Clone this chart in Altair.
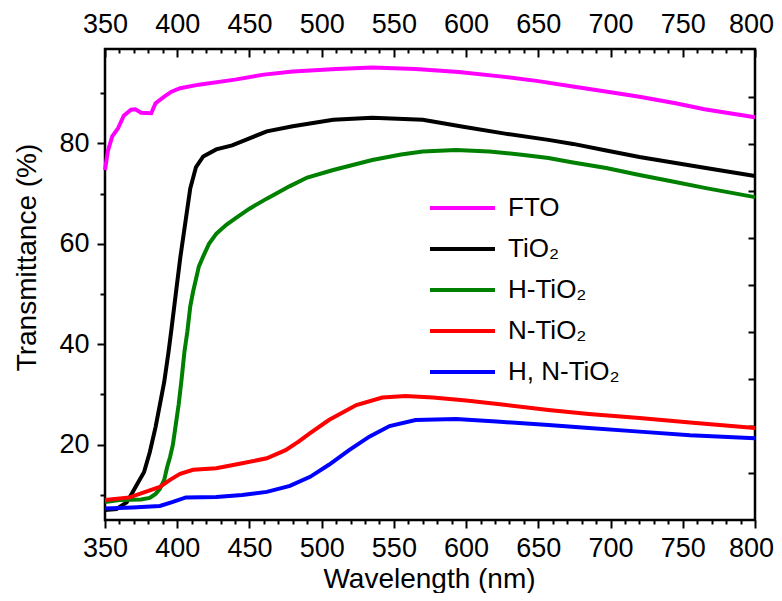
import altair as alt
import pandas as pd

# ---- data ----
series_names = ["FTO", "TiO₂", "H-TiO₂", "N-TiO₂", "H, N-TiO₂"]
series_colors = ["#ff00ff", "#000000", "#008000", "#ff0000", "#0000ff"]

fto_wl = [350, 352, 355, 359, 363, 368, 371, 375, 382, 385, 391, 396, 402, 415, 440, 460, 480, 510, 535, 565, 595, 625, 650, 675, 700, 720, 745, 765, 800]
fto_t = [74.7, 78.5, 81.4, 83.0, 85.5, 86.7, 86.8, 86.1, 86.0, 88.0, 89.3, 90.3, 91.0, 91.7, 92.7, 93.7, 94.3, 94.8, 95.1, 94.8, 94.2, 93.3, 92.4, 91.3, 90.2, 89.3, 88.0, 86.8, 85.2]

tio2_wl = [350, 358, 365, 369, 373, 377, 381, 385, 388, 391, 394, 396, 399, 402, 406, 409, 413, 418, 427, 438, 450, 462, 480, 508, 535, 570, 598, 628, 657, 674, 697, 720, 743, 766, 800]
tio2_t = [7.0, 7.2, 8.5, 10.5, 12.5, 14.5, 18.5, 23.5, 28.0, 32.5, 38.5, 43.0, 50.0, 57.0, 65.0, 71.0, 75.3, 77.4, 78.8, 79.6, 81.0, 82.4, 83.4, 84.7, 85.1, 84.7, 83.3, 81.9, 80.7, 79.9, 78.6, 77.3, 76.2, 75.1, 73.5]

htio2_wl = [350, 360, 375, 381, 385, 388, 391, 393, 395, 397, 399, 401, 403, 405, 407, 409, 411, 413, 415, 418, 422, 427, 434, 440, 450, 462, 478, 490, 508, 535, 555, 570, 593, 616, 640, 657, 674, 697, 720, 743, 766, 800]
htio2_t = [8.6, 9.0, 9.1, 9.4, 10.2, 11.2, 13.0, 15.5, 17.5, 20.0, 24.0, 28.0, 33.0, 38.5, 42.5, 47.5, 50.5, 53.0, 55.5, 57.5, 60.0, 62.0, 63.8, 65.0, 67.0, 69.0, 71.5, 73.2, 74.7, 76.7, 77.8, 78.4, 78.7, 78.4, 77.7, 77.1, 76.2, 75.1, 73.7, 72.4, 71.1, 69.3]

ntio2_wl = [350, 367, 378, 388, 395, 402, 411, 427, 445, 462, 475, 484, 492, 505, 524, 542, 558, 577, 600, 628, 657, 685, 720, 755, 800]
ntio2_t = [9.0, 9.5, 10.6, 11.6, 13.0, 14.2, 15.0, 15.3, 16.3, 17.3, 18.9, 20.6, 22.3, 24.9, 27.9, 29.4, 29.7, 29.4, 28.8, 27.9, 26.9, 26.1, 25.3, 24.4, 23.3]

hntio2_wl = [350, 369, 388, 397, 406, 427, 445, 462, 478, 492, 505, 519, 533, 547, 565, 593, 621, 657, 685, 720, 755, 800]
hntio2_t = [7.3, 7.5, 7.8, 8.6, 9.5, 9.6, 10.0, 10.6, 11.8, 13.6, 16.0, 18.9, 21.6, 23.7, 24.9, 25.1, 24.6, 23.9, 23.3, 22.6, 21.9, 21.3]

x_major = [350, 400, 450, 500, 550, 600, 650, 700, 750, 800]
x_minor = [v for v in range(350, 801, 10) if v % 50 != 0]
y_major = [20, 40, 60, 80]
y_minor = [10, 30, 50, 70, 90]
y_right = [89.3, 79.9, 70.6, 61.2, 51.8, 42.5, 33.1, 23.8, 14.4]

frames = []
for name, wl, t in zip(series_names,
                       [fto_wl, tio2_wl, htio2_wl, ntio2_wl, hntio2_wl],
                       [fto_t, tio2_t, htio2_t, ntio2_t, hntio2_t]):
    frames.append(pd.DataFrame({"wl": wl, "T": t, "series": name}))
df = pd.concat(frames, ignore_index=True)

xscale = alt.Scale(domain=[350, 800], nice=False, zero=False)
yscale = alt.Scale(domain=[5.0, 98.8], nice=False, zero=False)

# keep the last x label inside the drawing
last_label_shift = {"condition": {"test": "datum.value === 800", "value": -4}, "value": 0}

base = alt.Chart(df)

lines = base.mark_line(strokeWidth=4).encode(
    x=alt.X("wl:Q", scale=xscale, axis=alt.Axis(
        orient="bottom", values=x_major, tickSize=8, labelPadding=7,
        labelOffset=last_label_shift,
        title="Wavelength (nm)", titleX=324, titleY=67, titleBaseline="alphabetic",
        titleAlign="center")),
    y=alt.Y("T:Q", scale=yscale, axis=alt.Axis(
        orient="left", values=y_major, tickSize=8, labelPadding=8,
        title="Transmittance (%)", titleX=-70, titleY=208, titleAngle=270,
        titleBaseline="alphabetic", titleAlign="center")),
    color=alt.Color("series:N", sort=series_names,
                    scale=alt.Scale(domain=series_names, range=series_colors),
                    legend=alt.Legend(title=None, orient="none", legendX=323, legendY=146,
                                      symbolType="stroke", symbolSize=4225,
                                      symbolStrokeWidth=4, labelFontSize=26,
                                      labelFont="Liberation Sans", labelColor="black",
                                      labelOffset=11, clipHeight=26, rowPadding=15,
                                      padding=0)),
)

minor = base.mark_point(opacity=0).encode(
    x=alt.X("wl:Q", scale=xscale, axis=alt.Axis(
        orient="bottom", values=x_minor, tickSize=4, labels=False, title="")),
    y=alt.Y("T:Q", scale=yscale, axis=alt.Axis(
        orient="left", values=y_minor, tickSize=5, labels=False, title="")),
)

top_major = base.mark_point(opacity=0).encode(
    x=alt.X("wl:Q", scale=xscale, axis=alt.Axis(
        orient="top", values=x_major, tickSize=8, offset=-8, labelPadding=11,
        labelOffset=last_label_shift, title="")),
    y=alt.Y("T:Q", scale=yscale, axis=alt.Axis(
        orient="right", values=y_right, tickSize=7, offset=-7, labels=False, title="")),
)

top_minor = base.mark_point(opacity=0).encode(
    x=alt.X("wl:Q", scale=xscale, axis=alt.Axis(
        orient="top", values=x_minor, tickSize=4, offset=-4, labels=False, title="")),
    y=alt.Y("T:Q", scale=yscale, axis=None),
)

chart = alt.layer(lines, minor, top_major, top_minor).resolve_axis(
    x="independent", y="independent"
).properties(
    width=650, height=471,
    autosize=alt.AutoSizeParams(type="none"),
    padding={"left": 97, "top": 41, "right": 19, "bottom": 73},
).configure_axis(
    grid=False, domain=False, tickColor="black", tickWidth=2,
    labelColor="black", labelFont="Liberation Sans", labelFontSize=27,
    labelFlush=False, labelOverlap=False,
    titleFont="Liberation Sans", titleFontSize=28, titleColor="black",
    titleFontWeight="normal",
).configure_view(stroke="black", strokeWidth=2.5)

chart.save("out.html", embed_options={"renderer": "svg", "actions": False})
